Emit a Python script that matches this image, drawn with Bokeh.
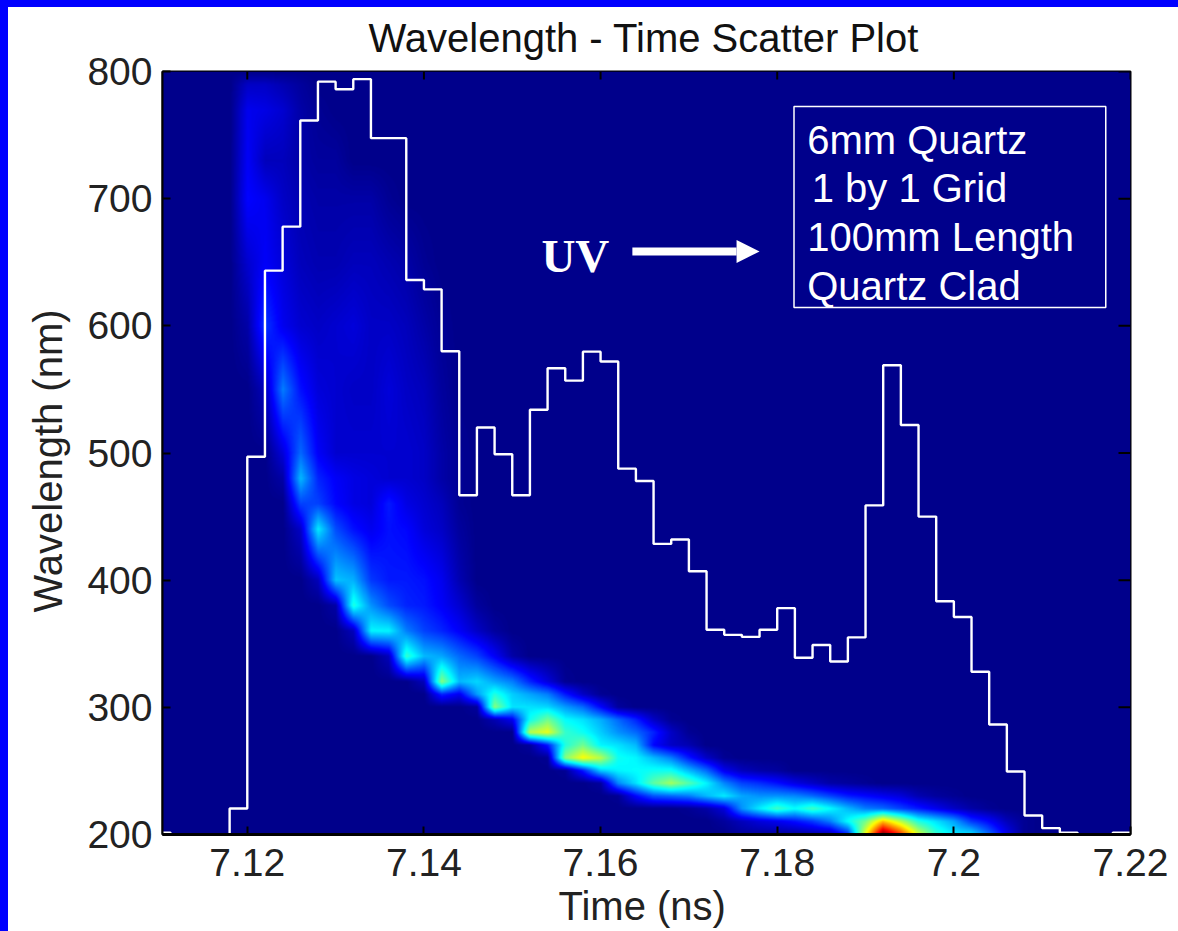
import numpy as np
from bokeh.plotting import figure
from bokeh.models import Arrow, NormalHead, FixedTicker, LinearColorMapper, Range1d, Title
from bokeh.core.properties import value
from bokeh.embed import file_html
from bokeh.resources import INLINE

title_text = "Wavelength - Time Scatter Plot"
x_label = "Time (ns)"
y_label = "Wavelength (nm)"
x_ticks = [7.12, 7.14, 7.16, 7.18, 7.2, 7.22]
x_tick_labels = ["7.12", "7.14", "7.16", "7.18", "7.2", "7.22"]
y_ticks = [200, 300, 400, 500, 600, 700, 800]

# white histogram: left edge of each bin and its level
hist_left = [7.1104, 7.1113]
hist_left_levels = [201.5, 0]
hist_first_edge = 7.118
hist_bin = 0.002
hist_levels = [220.4, 497, 643.4, 678, 761.5, 792, 786, 794, 747.6, 747.6, 636, 628.7, 580,
               466.8, 520, 499, 466.8, 534, 566.6, 556.9, 579.7, 572, 487.7, 478, 428.5, 432,
               407, 361, 357, 355.4, 361, 378, 339, 349, 336, 355, 458.8, 569, 522, 450,
               383.4, 371, 328, 286.5, 249.5, 215, 205, 201.5, 0, 0, 201.5]

# heat map: wavelength of the row, first time column, values (percent of colour scale)
heat_t0 = 7.116
heat_dt = 0.002
heat_columns = 48
heat_rows = [
    (200, 30, [2, 2, 2, 2, 3, 4, 15, 60, 100, 82, 58, 42, 35, 34, 22, 10, 1]),
    (210, 29, [2, 5, 8, 10, 13, 17, 24, 37, 48, 68, 55, 40, 34, 28, 17, 12, 5, 1]),
    (220, 27, [1, 3, 8, 26, 35, 43, 37, 43, 37, 30, 24, 22, 18, 14, 10, 6, 3, 1]),
    (230, 23, [1, 12, 20, 22, 24, 30, 35, 28, 26, 26, 25, 22, 18, 14, 12, 10, 8, 4, 2, 1]),
    (240, 22, [2, 25, 34, 46, 53, 45, 36, 25, 18, 16, 13, 9, 6, 3, 2, 1]),
    (250, 20, [1, 14, 32, 36, 37, 38, 38, 30, 22, 10, 5, 3, 2]),
    (260, 19, [1, 50, 62, 55, 38, 36, 30, 24, 14, 6, 1]),
    (270, 18, [2, 14, 40, 48, 36, 34, 30, 12, 6, 4]),
    (280, 18, [55, 60, 42, 38, 32, 26, 22, 15, 6, 1]),
    (290, 16, [4, 10, 38, 48, 37, 34, 29, 22, 15, 6, 1]),
    (300, 15, [2, 50, 34, 34, 33, 27, 22, 12, 2]),
    (310, 13, [15, 10, 27, 40, 32, 28, 24, 14, 6, 1]),
    (320, 12, [5, 50, 30, 33, 28, 24, 15, 8, 1]),
    (340, 10, [5, 42, 30, 28, 22, 18, 11, 3]),
    (360, 8, [5, 36, 36, 24, 18, 15, 11, 6, 2]),
    (380, 7, [3, 40, 26, 19, 15, 14, 11, 7, 2]),
    (400, 6, [5, 31, 29, 17, 14, 14, 13, 10, 4]),
    (440, 5, [6, 35, 19, 13, 10, 13, 12, 8, 6, 2]),
    (460, 5, [18, 18, 12, 9, 8, 14, 9, 7, 5, 1]),
    (480, 4, [3, 30, 15, 11, 9, 8, 7, 7, 6, 3, 1]),
    (500, 4, [8, 22, 11, 7, 7, 7, 7, 7, 6, 3, 1]),
    (550, 3, [5, 24, 13, 8, 7, 6, 6, 8, 6, 5, 2]),
    (600, 2, [3, 17, 10, 7, 6, 7, 8, 6, 6, 5, 3, 1]),
    (650, 2, [7, 11, 8, 5, 4, 4, 5, 5, 4, 3, 1]),
    (700, 2, [12, 10, 6, 4, 3, 3, 3, 3, 1]),
    (730, 2, [11, 5, 5, 3, 2, 2]),
    (770, 2, [10, 9, 7, 3, 1]),
    (790, 2, [6, 6, 4, 2]),
    (800, 2, [0]),
]

x_start, x_end = 7.1104, 7.22
y_start, y_end = 200, 800

# rendering grid for the smooth (interpolated) shading
heat_t = heat_t0 + heat_dt * np.arange(heat_columns)
heat_nm = np.array([r[0] for r in heat_rows], dtype=float)
coarse = np.zeros((len(heat_rows), heat_columns))
for i, (_, first, vals) in enumerate(heat_rows):
    coarse[i, first:first + len(vals)] = vals
fine_t = np.linspace(x_start, x_end, 968)
fine_nm = np.linspace(y_start, y_end, 763)
by_row = np.array([np.interp(fine_t, heat_t, row) for row in coarse])
shade = np.array([np.interp(fine_nm, heat_nm, col) for col in by_row.T]).T

v = 0.011 + 0.989 * np.linspace(0, 1, 256)
rgb = np.clip(1.5 - np.abs(4 * v[:, None] - np.array([3, 2, 1])), 0, 1)
jet = ["#%02x%02x%02x" % tuple(int(round(c * 255)) for c in row) for row in rgb]

p = figure(width=1170, height=931, output_backend="svg", toolbar_location=None,
           x_range=Range1d(x_start, x_end), y_range=Range1d(y_start, y_end),
           min_border_left=154, min_border_right=48, min_border_top=71, min_border_bottom=97,
           background_fill_color=jet[0], border_fill_color=None)
p.grid.visible = False
p.outline_line_color = "black"
p.outline_line_width = 2

FONT = "Liberation Sans"
mapper = LinearColorMapper(palette=jet, low=0, high=100)
p.image(image=[shade], x=x_start, y=y_start, dw=x_end - x_start, dh=y_end - y_start, color_mapper=mapper)

hist_x = hist_left + [round(hist_first_edge + hist_bin * k, 3) for k in range(len(hist_levels) + 1)]
hist_y = hist_left_levels + hist_levels + [hist_levels[-1]]
p.step(hist_x, hist_y, mode="after", line_color="white", line_width=2.4)

# inward ticks on the top and right edges
top_tick_nm = 6.3
right_tick_ns = 0.00136
p.segment(x_ticks, [y_end] * len(x_ticks), x_ticks, [y_end - top_tick_nm] * len(x_ticks),
          line_color="black", line_width=2)
p.segment([x_end] * len(y_ticks), y_ticks, [x_end - right_tick_ns] * len(y_ticks), y_ticks,
          line_color="black", line_width=2)

# annotation box
p.quad(left=[7.1819], right=[7.2172], top=[772.5], bottom=[614.5], fill_color=None, line_color="white", line_width=1.5)
box_lines = ["6mm Quartz", "1 by 1 Grid", "100mm Length", "Quartz Clad"]
box_x = [7.1834, 7.1839, 7.1834, 7.1834]
box_y = [746.5, 708, 669.5, 631]
p.text(box_x, box_y, text=box_lines, text_color="white", text_font=value(FONT),
       text_font_size="40px", text_baseline="alphabetic", text_align="left")
p.text([7.1533], [654.6], text=["UV"], text_color="white", text_font=value("Liberation Serif"),
       text_font_style="bold", text_font_size="47px", text_baseline="alphabetic", text_align="left")
p.add_layout(Arrow(end=NormalHead(size=23, fill_color="white", line_color="white", line_width=0),
                   x_start=7.1636, y_start=658.5, x_end=7.178, y_end=658.5,
                   line_color="white", line_width=8))

p.title.text = title_text
p.title.align = "left"
p.title.offset = 206
p.title.text_font = FONT
p.title.text_font_size = "40px"
p.title.text_font_style = "normal"
p.title.text_color = "#111111"
p.title.standoff = 24

xa, ya = p.xaxis[0], p.yaxis[0]
for ax, ticks in ((xa, x_ticks), (ya, y_ticks)):
    ax.ticker = FixedTicker(ticks=ticks)
    ax.major_tick_in = 8
    ax.major_tick_out = 0
    ax.minor_tick_line_color = None
    ax.major_tick_line_color = "black"
    ax.major_tick_line_width = 2
    ax.axis_line_color = "black"
    ax.axis_line_width = 2
    ax.major_label_text_font = FONT
    ax.major_label_text_font_size = "39px"
    ax.major_label_text_color = "#222222"
xa.axis_line_width = 3
xa.major_label_overrides = dict(zip(x_ticks, x_tick_labels))
ya.major_label_overrides = {t: str(t) for t in y_ticks}
xa.major_label_standoff = 14
ya.major_label_standoff = 10

p.add_layout(Title(text=x_label, align="left", offset=396, standoff=6, text_font=FONT, text_font_size="40px",
                   text_font_style="normal", text_color="#222222"), "below")
p.add_layout(Title(text=y_label, align="left", offset=222, standoff=30, text_font=FONT, text_font_size="40px",
                   text_font_style="normal", text_color="#222222"), "left")

html = file_html(p, INLINE)
css = ("<style>html{background:linear-gradient(#00f,#00f) 0 0/100% 7px no-repeat,"
       "linear-gradient(#00f,#00f) 0 0/8px 100% no-repeat,#fff!important;overflow:hidden}"
       "html,body{height:auto!important}body{background:none!important;margin:0 0 0 8px!important}</style>")
html = html.replace("</head>", css + "</head>", 1)
open("out.html", "w").write(html)
